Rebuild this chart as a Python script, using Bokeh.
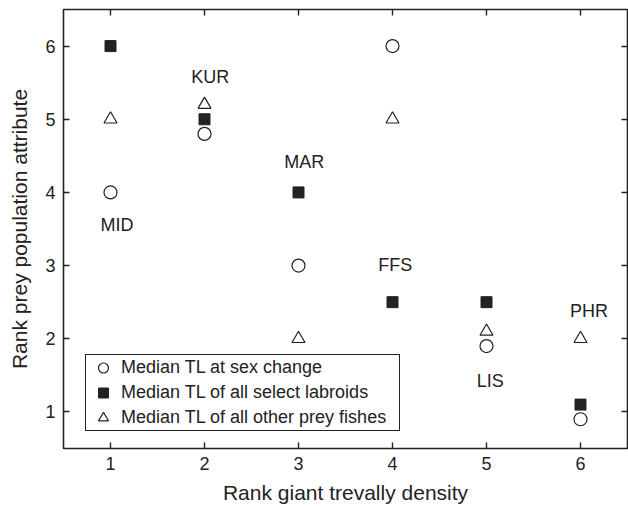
from bokeh.plotting import figure
from bokeh.models import LinearAxis, Range1d, FixedTicker, Legend, LegendItem, ColumnDataSource
from bokeh.core.properties import value
from bokeh.embed import file_html
from bokeh.resources import INLINE

# Data
density_rank = [1, 2, 3, 4, 5, 6]
tl_sex_change = [4, 4.8, 3, 6, 1.9, 0.9]
tl_labroids = [6, 5, 4, 2.5, 2.5, 1.1]
tl_other_prey = [5, 5.2, 2, 5, 2.1, 2]
site_labels = ["MID", "KUR", "MAR", "FFS", "LIS", "PHR"]
site_label_x = [1.07, 2.06, 3.06, 4.03, 5.04, 6.09]
site_label_y = [3.55, 5.58, 4.41, 3.01, 1.42, 2.38]
ticks = [1, 2, 3, 4, 5, 6]

FONT = "Liberation Sans"
INK = "#222222"

p = figure(width=628, height=506, output_backend="svg", toolbar_location=None,
           x_range=Range1d(0.5, 6.5), y_range=Range1d(0.5, 6.5),
           min_border_left=63, min_border_right=1, min_border_top=9, min_border_bottom=57,
           x_axis_label="Rank giant trevally density",
           y_axis_label="Rank prey population attribute")
p.grid.visible = False
p.outline_line_color = INK
p.outline_line_width = 1.6
p.outline_line_alpha = 1

for ax in [p.xaxis[0], p.yaxis[0]]:
    ax.ticker = FixedTicker(ticks=ticks)
    ax.minor_tick_line_color = None
    ax.major_tick_in = 6
    ax.major_tick_out = 0
    ax.major_tick_line_color = INK
    ax.major_tick_line_width = 1.4
    ax.axis_line_color = None
    ax.major_label_text_font = FONT
    ax.major_label_text_font_size = "18px"
    ax.major_label_text_color = INK
    ax.axis_label_text_font = FONT
    ax.axis_label_text_font_size = "21px"
    ax.axis_label_text_font_style = "normal"
    ax.axis_label_text_color = INK
p.xaxis[0].major_label_standoff = 8
p.yaxis[0].major_label_standoff = 8
p.xaxis[0].axis_label_standoff = 8
p.yaxis[0].axis_label_standoff = 11

for loc in ["above", "right"]:
    ax = LinearAxis(ticker=FixedTicker(ticks=ticks))
    ax.minor_tick_line_color = None
    ax.major_tick_in = 6
    ax.major_tick_out = 0
    ax.major_tick_line_color = INK
    ax.major_tick_line_width = 1.4
    ax.axis_line_color = None
    ax.major_label_text_font_size = "1px"
    ax.major_label_text_alpha = 0
    ax.major_label_standoff = 0
    p.add_layout(ax, loc)

src = ColumnDataSource(dict(x=density_rank, c=tl_sex_change, s=tl_labroids, t=tl_other_prey))

r_c = p.scatter("x", "c", source=src, marker="circle", size=13, fill_color="white",
                line_color=INK, line_width=1.2)
r_s = p.scatter("x", "s", source=src, marker="square", size=11, fill_color=INK,
                line_color=INK, line_width=1)
r_t = p.scatter("x", "t", source=src, marker="triangle", size=13, fill_color="white",
                line_color=INK, line_width=1.2)

p.text(x=site_label_x, y=site_label_y, text=site_labels, text_align="center",
       text_baseline="middle", text_font=value(FONT), text_font_size="18px",
       text_color=INK)

legend = Legend(items=[
    LegendItem(label="Median TL at sex change", renderers=[r_c]),
    LegendItem(label="Median TL of all select labroids", renderers=[r_s]),
    LegendItem(label="Median TL of all other prey fishes", renderers=[r_t]),
], location=(22, 17))
legend.label_text_font = FONT
legend.label_text_font_size = "18px"
legend.label_text_color = INK
legend.border_line_color = INK
legend.border_line_alpha = 1
legend.border_line_width = 1.4
legend.glyph_width = 34
legend.glyph_height = 25
legend.label_height = 22
legend.label_width = 278
legend.spacing = 0
legend.padding = 0
legend.margin = 0
legend.label_standoff = 1
legend.background_fill_alpha = 1
p.add_layout(legend, "center")

open("out.html", "w").write(file_html(p, INLINE))
